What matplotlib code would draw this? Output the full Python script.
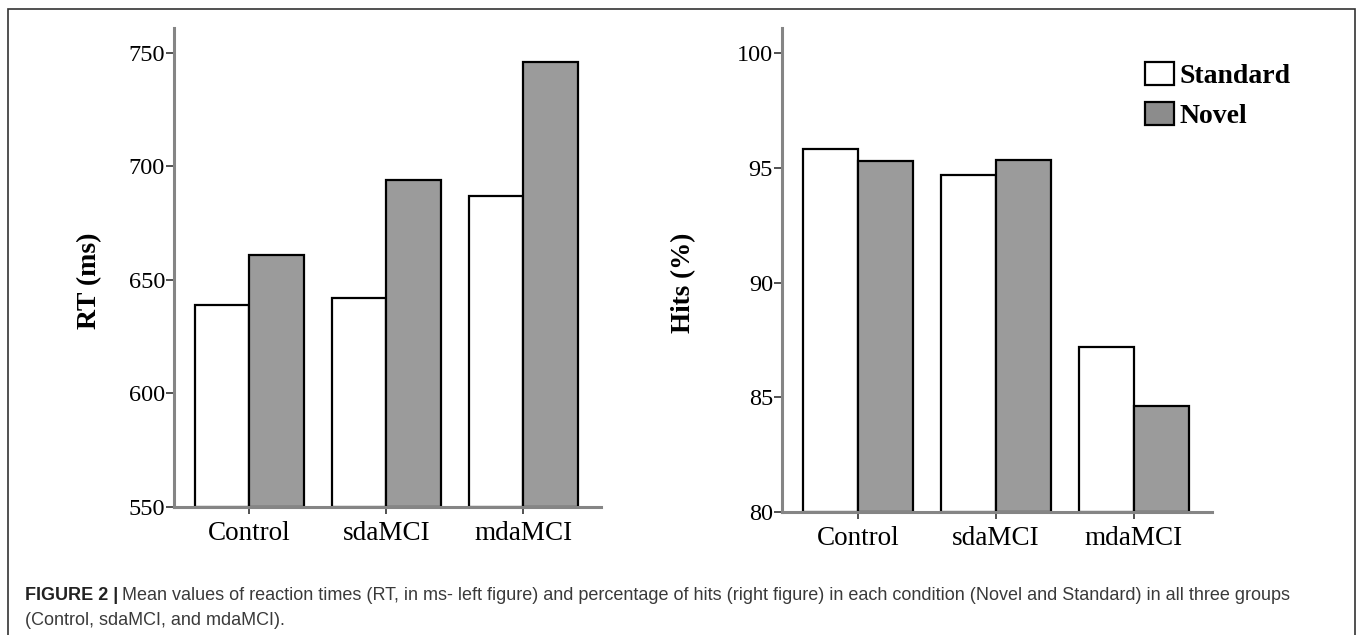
import matplotlib.pyplot as plt
from matplotlib.patches import Patch, Rectangle

groups = ["Control", "sdaMCI", "mdaMCI"]
rt_standard = [639, 642, 687]
rt_novel = [661, 694, 746]
hits_standard = [95.8, 94.7, 87.2]
hits_novel = [95.3, 95.35, 84.6]
rt_ticks = [550, 600, 650, 700, 750]
hits_ticks = [80, 85, 90, 95, 100]

caption_bold = "FIGURE 2 |"
caption_rest = ("Mean values of reaction times (RT, in ms- left figure) and percentage of hits "
                "(right figure) in each condition (Novel and Standard) in all three groups")
caption_line2 = "(Control, sdaMCI, and mdaMCI)."

SERIF = "Liberation Serif"
SANS = "Liberation Sans"
GREY = "#9b9b9b"
W = 1358
H = 635

fig = plt.figure(figsize=(W / 100, H / 100), dpi=100)


def px_box(left, right, top, bottom):
    # convert pixel edges of the reference to figure fractions
    return [left / W, 1 - bottom / H, (right - left) / W, (bottom - top) / H]


def draw_panel(ax, std, nov, ticks, ylim, ylabel, label_xy, label_size):
    x = list(range(len(groups)))
    width = 0.4
    ax.bar([i - width / 2 for i in x], [v - ylim[0] for v in std], width, bottom=ylim[0],
           color="white", edgecolor="black", linewidth=1.6, zorder=2)
    ax.bar([i + width / 2 for i in x], [v - ylim[0] for v in nov], width, bottom=ylim[0],
           color=GREY, edgecolor="black", linewidth=1.6, zorder=2)
    ax.set_ylim(*ylim)
    ax.set_xlim(-0.55, 2.567)
    ax.set_yticks(ticks)
    ax.set_xticks(x)
    ax.set_xticklabels(groups)
    for side in ["top", "right"]:
        ax.spines[side].set_visible(False)
    for side in ["left", "bottom"]:
        ax.spines[side].set_color("#858585")
        ax.spines[side].set_linewidth(2.2)
        ax.spines[side].set_zorder(3)
    ax.tick_params(axis="y", length=6, width=1.2, color="#333333", pad=0.5,
                   labelsize=17.5)
    ax.tick_params(axis="x", length=5, width=1.2, color="#333333", pad=5,
                   labelsize=19.5)
    for lab in ax.get_xticklabels() + ax.get_yticklabels():
        lab.set_fontfamily(SERIF)
    ax.text(label_xy[0], label_xy[1], ylabel, transform=ax.transAxes, rotation=90,
            ha="center", va="center", fontsize=label_size, fontweight="bold", family=SERIF)


ax_rt = fig.add_axes(px_box(174, 601, 28, 507))
draw_panel(ax_rt, rt_standard, rt_novel, rt_ticks, (550, 761), "RT (ms)",
           ((90 - 174) / 427, (507 - 281) / 479), 20)

ax_hits = fig.add_axes(px_box(782, 1212, 28, 512))
draw_panel(ax_hits, hits_standard, hits_novel, hits_ticks, (80, 101.09), "Hits (%)",
           ((684 - 782) / 430, (512 - 283) / 484), 19.5)

handles = [Patch(facecolor="white", edgecolor="black", linewidth=1.6, label="Standard"),
           Patch(facecolor="#8c8c8c", edgecolor="black", linewidth=1.6, label="Novel")]
fig.legend(handles=handles, loc="upper left", bbox_to_anchor=(1145 / W, 1 - 62 / H),
           frameon=False, borderpad=0, borderaxespad=0, handlelength=1.05,
           handleheight=0.9, handletextpad=0.2, labelspacing=0.45,
           prop={"family": SERIF, "weight": "bold", "size": 20})

# frame round the whole figure panel (bottom edge runs off the image)
fig.add_artist(Rectangle((8 / W, -0.05), (1355 - 8) / W, 1.05 - 9 / H,
                         transform=fig.transFigure, fill=False, edgecolor="#333333",
                         linewidth=1.2))

t1 = fig.text(25 / W, 1 - 600 / H, caption_bold, fontsize=12.95, fontweight="bold",
              family=SANS, color="#222222", va="baseline")
ax_rt.annotate(caption_rest, xy=(1, 0), xycoords=t1, xytext=(3, 0),
               textcoords="offset points", fontsize=12.95, family=SANS,
               color="#3a3a3a", va="bottom", annotation_clip=False)
fig.text(25 / W, 1 - 625 / H, caption_line2, fontsize=12.95, family=SANS,
         color="#3a3a3a", va="baseline")

fig.savefig("out.png", dpi=100)
